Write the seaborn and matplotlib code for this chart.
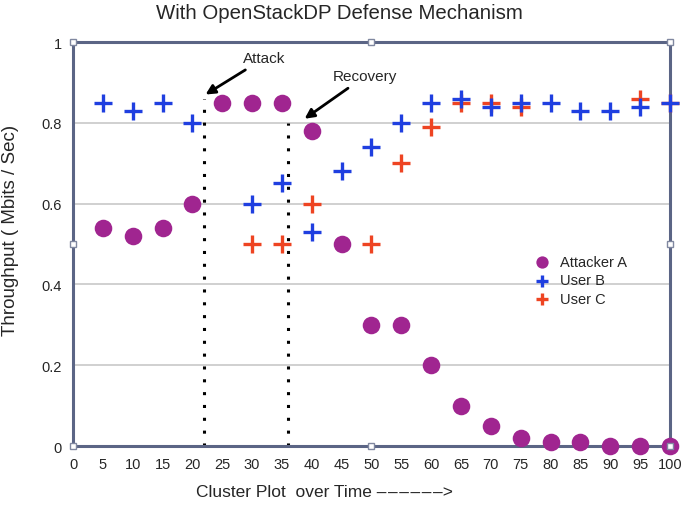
import numpy as np
import pandas as pd
import matplotlib
matplotlib.use("Agg")
import matplotlib.pyplot as plt
import seaborn as sns

x_a = [5, 10, 15, 20, 25, 30, 35, 40, 45, 50, 55, 60, 65, 70, 75, 80, 85, 90, 95, 100]
y_a = [0.54, 0.52, 0.54, 0.60, 0.85, 0.85, 0.85, 0.78, 0.50, 0.30, 0.30, 0.20, 0.10, 0.05, 0.02, 0.01, 0.01, 0.0, 0.0, 0.0]
x_b = [5, 10, 15, 20, 30, 35, 40, 45, 50, 55, 60, 65, 70, 75, 80, 85, 90, 95, 100]
y_b = [0.85, 0.83, 0.85, 0.80, 0.60, 0.65, 0.53, 0.68, 0.74, 0.80, 0.85, 0.86, 0.84, 0.85, 0.85, 0.83, 0.83, 0.84, 0.85]
x_c = [30, 35, 40, 50, 55, 60, 65, 70, 75, 95, 100]
y_c = [0.50, 0.50, 0.60, 0.50, 0.70, 0.79, 0.85, 0.85, 0.84, 0.86, 0.85]
series_names = ["Attacker A", "User B", "User C"]
x_ticks = list(range(0, 101, 5))
y_ticks = [0, 0.2, 0.4, 0.6, 0.8, 1]
y_ticklabels = ["0", "0.2", "0.4", "0.6", "0.8", "1"]
attack_x, recovery_x = 22, 36

sns.set_theme(style="white")
plt.rcParams['font.family'] = ['Liberation Sans', 'DejaVu Sans']

fig = plt.figure(figsize=(6.85, 5.06), dpi=100)
ax = fig.add_axes([0.1066, 0.1166, 0.8714, 0.7984])

df_a = pd.DataFrame({"x": x_a, "y": y_a})
df_b = pd.DataFrame({"x": x_b, "y": y_b})
df_c = pd.DataFrame({"x": x_c, "y": y_c})

for yv in [0.2, 0.4, 0.6, 0.8]:
    ax.axhline(yv, color="#c8c8c8", lw=1.2, zorder=0)

ax.plot([attack_x, attack_x], [0, 0.86], ls=(0, (1, 3.2)), color="black", lw=2.2, zorder=1)
ax.plot([recovery_x, recovery_x], [0, 0.80], ls=(0, (1, 3.2)), color="black", lw=2.2, zorder=1)

sns.scatterplot(data=df_c, x="x", y="y", ax=ax, marker="+", s=150, color="#ee4422",
                linewidth=2.4, label=series_names[2], zorder=3, clip_on=False)
sns.scatterplot(data=df_b, x="x", y="y", ax=ax, marker="+", s=150, color="#1f3fe0",
                linewidth=2.4, label=series_names[1], zorder=4, clip_on=False)
sns.scatterplot(data=df_a, x="x", y="y", ax=ax, marker="o", s=160, color="#a02590",
                edgecolor="#a02590", linewidth=0, label=series_names[0], zorder=5, clip_on=False)

ax.set_xlim(0, 100)
ax.set_ylim(0, 1)
ax.set_xticks(x_ticks)
ax.set_xticklabels([str(t) for t in x_ticks], fontsize=10.5)
ax.set_yticks(y_ticks)
ax.set_yticklabels(y_ticklabels, fontsize=10.5)
ax.tick_params(axis="both", length=0, pad=8)
ax.set_xlabel("Cluster Plot  over Time \u2013\u200a\u2013\u200a\u2013\u200a\u2013\u200a\u2013\u200a\u2013>",
              fontsize=12.5)
ax.xaxis.set_label_coords(0.422, -0.095)
ax.set_ylabel("Throughput ( Mbits / Sec)", fontsize=13.5)
ax.yaxis.set_label_coords(-0.09, 0.537)
ax.set_title("With OpenStackDP Defense Mechanism", fontsize=14.7, x=0.447, pad=17)

for sp in ax.spines.values():
    sp.set_color("#5b6585")
    sp.set_linewidth(2.2)

sq_x = [0, 50, 100, 0, 50, 100, 0, 100]
sq_y = [0, 0, 0, 1, 1, 1, 0.5, 0.5]
ax.plot(sq_x, sq_y, ls="none", marker="s", ms=5, mfc="white", mec="#8088a0", mew=1,
        clip_on=False, zorder=6)

ax.annotate("Attack", xy=(attack_x + 0.2, 0.87), xytext=(28.5, 0.96), fontsize=11,
            ha="left", va="center",
            arrowprops=dict(arrowstyle="-|>", color="black", lw=2, mutation_scale=14,
                            shrinkA=2, shrinkB=0))
ax.annotate("Recovery", xy=(recovery_x + 2.8, 0.81), xytext=(43.5, 0.915), fontsize=11,
            ha="left", va="center",
            arrowprops=dict(arrowstyle="-|>", color="black", lw=2, mutation_scale=14,
                            shrinkA=2, shrinkB=0))

handles, labels = ax.get_legend_handles_labels()
order = [labels.index(n) for n in series_names]
leg = ax.legend([handles[i] for i in order], [labels[i] for i in order],
                loc="center left", bbox_to_anchor=(0.74, 0.41), frameon=False,
                fontsize=10.5, handletextpad=0.2, labelspacing=0.3, markerscale=0.7)

fig.savefig("out.png", dpi=100)
